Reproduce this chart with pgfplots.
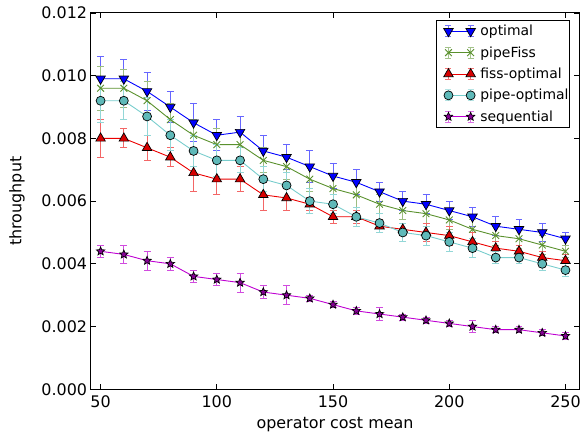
\documentclass[border=0pt]{standalone}
\usepackage{pgfplots}
\pgfplotsset{compat=1.18}
\usepackage{pgfplotstable}
\usepackage{fontspec}
\setmainfont{DejaVu Sans}
\usetikzlibrary{plotmarks}

\definecolor{cOpt}{RGB}{0,0,255}
\definecolor{cPF}{RGB}{90,145,45}
\definecolor{cFiss}{RGB}{235,0,0}
\definecolor{cFissM}{RGB}{215,0,0}
\definecolor{cPipe}{RGB}{120,205,205}
\definecolor{cPipeM}{RGB}{95,185,185}
\definecolor{cSeq}{RGB}{190,0,210}
\definecolor{cSeqM}{RGB}{135,0,150}

% filled five-pointed star
\pgfdeclareplotmark{fstar}{%
  \pgfpathmoveto{\pgfqpointpolar{90}{\pgfplotmarksize}}%
  \pgfpathlineto{\pgfqpointpolar{126}{0.45\pgfplotmarksize}}%
  \pgfpathlineto{\pgfqpointpolar{162}{\pgfplotmarksize}}%
  \pgfpathlineto{\pgfqpointpolar{198}{0.45\pgfplotmarksize}}%
  \pgfpathlineto{\pgfqpointpolar{234}{\pgfplotmarksize}}%
  \pgfpathlineto{\pgfqpointpolar{270}{0.45\pgfplotmarksize}}%
  \pgfpathlineto{\pgfqpointpolar{306}{\pgfplotmarksize}}%
  \pgfpathlineto{\pgfqpointpolar{342}{0.45\pgfplotmarksize}}%
  \pgfpathlineto{\pgfqpointpolar{18}{\pgfplotmarksize}}%
  \pgfpathlineto{\pgfqpointpolar{54}{0.45\pgfplotmarksize}}%
  \pgfpathclose
  \pgfusepathqfillstroke
}

\pgfplotstableread{
x   y      e
50  0.0099 0.0007
60  0.0099 0.0006
70  0.0095 0.0006
80  0.0090 0.0005
90  0.0085 0.0006
100 0.0081 0.0005
110 0.0082 0.0005
120 0.0076 0.0005
130 0.0074 0.0004
140 0.0071 0.0005
150 0.0068 0.0004
160 0.0066 0.0004
170 0.0063 0.0003
180 0.0060 0.0003
190 0.0059 0.0003
200 0.0057 0.0003
210 0.0055 0.0003
220 0.0052 0.0003
230 0.0051 0.0003
240 0.0050 0.0003
250 0.0048 0.0002
}\optimal

\pgfplotstableread{
x   y      e
50  0.0096 0.0007
60  0.0096 0.0006
70  0.0092 0.0006
80  0.0086 0.0005
90  0.0081 0.0005
100 0.0078 0.0005
110 0.0078 0.0004
120 0.0073 0.0004
130 0.0071 0.0004
140 0.0067 0.0004
150 0.0064 0.0004
160 0.0062 0.0004
170 0.0059 0.0003
180 0.0057 0.0003
190 0.0056 0.0003
200 0.0054 0.0003
210 0.0051 0.0003
220 0.0049 0.0003
230 0.0048 0.0003
240 0.0046 0.0003
250 0.0044 0.0002
}\pipefiss

\pgfplotstableread{
x   y      e
50  0.0080 0.0006
60  0.0080 0.0003
70  0.0077 0.0004
80  0.0074 0.0003
90  0.0069 0.0006
100 0.0067 0.0005
110 0.0067 0.0004
120 0.0062 0.0005
130 0.0061 0.0004
140 0.0059 0.0002
150 0.0055 0.0002
160 0.0055 0.0002
170 0.0052 0.0002
180 0.0051 0.0002
190 0.0050 0.0003
200 0.0049 0.0003
210 0.0047 0.0003
220 0.0045 0.0002
230 0.0044 0.0002
240 0.0042 0.0002
250 0.0041 0.0002
}\fissopt

\pgfplotstableread{
x   y      e
50  0.0092 0.0007
60  0.0092 0.0006
70  0.0087 0.0006
80  0.0081 0.0005
90  0.0076 0.0005
100 0.0073 0.0005
110 0.0073 0.0004
120 0.0067 0.0004
130 0.0065 0.0004
140 0.0060 0.0004
150 0.0059 0.0003
160 0.0055 0.0003
170 0.0053 0.0003
180 0.0050 0.0003
190 0.0049 0.0003
200 0.0047 0.0003
210 0.0045 0.0003
220 0.0042 0.0002
230 0.0042 0.0002
240 0.0040 0.0002
250 0.0038 0.0002
}\pipeopt

\pgfplotstableread{
x   y      e
50  0.0044 0.0002
60  0.0043 0.0003
70  0.0041 0.0003
80  0.0040 0.0002
90  0.0036 0.0002
100 0.0035 0.0002
110 0.0034 0.0003
120 0.0031 0.0002
130 0.0030 0.0003
140 0.0029 0.0001
150 0.0027 0.0001
160 0.0025 0.0001
170 0.0024 0.0002
180 0.0023 0.0001
190 0.0022 0.0001
200 0.0021 0.0001
210 0.0020 0.0002
220 0.0019 0.0001
230 0.0019 0.0001
240 0.0018 0.0001
250 0.0017 0.0001
}\sequential

\begin{document}
\begin{tikzpicture}
\begin{axis}[
  at={(0pt,0pt)}, anchor=south west,
  scale only axis, width=491pt, height=378pt,
  xmin=45.7, xmax=256, ymin=0, ymax=0.012,
  xtick={50,100,150,200,250},
  ytick={0,0.002,0.004,0.006,0.008,0.010,0.012},
  scaled y ticks=false,
  yticklabel style={/pgf/number format/.cd, fixed, fixed zerofill, precision=3},
  xticklabel style={yshift=-3pt},
  /pgf/number format/assume math mode=true,
  tick label style={font=\fontsize{16}{19}\selectfont},
  label style={font=\fontsize{16}{19}\selectfont},
  tick align=inside,
  major tick length=5pt,
  tick style={black, line width=0.8pt},
  axis line style={line width=1pt},
  xlabel={operator cost mean},
  ylabel={throughput},
  xlabel style={at={(axis description cs:0.5,-0.0926)}, anchor=center},
  ylabel style={at={(axis description cs:-0.1507,0.5)}, rotate=0, anchor=center},
  legend style={at={(0.9805,0.9815)}, anchor=north east, draw=black, line width=0.8pt,
    font=\fontsize{14}{17}\selectfont, nodes={inner sep=0pt},
    row sep=9.3pt, column sep=1.3pt, inner xsep=1pt, inner ysep=5pt},
  legend cell align=left,
  legend image code/.code={%
    \draw[mark=none, opacity=0.55, line width=1pt]
      (0pt,-5.5pt)--(0pt,5.5pt) (-3pt,5.5pt)--(3pt,5.5pt) (-3pt,-5.5pt)--(3pt,-5.5pt)
      (22.3pt,-5.5pt)--(22.3pt,5.5pt) (19.3pt,5.5pt)--(25.3pt,5.5pt) (19.3pt,-5.5pt)--(25.3pt,-5.5pt);
    \draw[#1] plot coordinates {(0pt,0pt) (22.3pt,0pt)};
    \path (-11pt,0pt) (30.3pt,0pt);},
]
\addplot[color=cOpt, line width=0.9pt, mark=triangle*, mark size=5.5pt,
  mark options={rotate=180, fill=cOpt, draw=black, line width=0.7pt},
  error bars/.cd, y dir=both, y explicit,
  error bar style={color=cOpt!60, line width=1pt},
  error mark options={rotate=90, mark size=3.5pt, color=cOpt!60, line width=1pt}]
  table[x=x, y=y, y error=e] {\optimal};
\addlegendentry{optimal}

\addplot[color=cPF, line width=0.9pt, mark=x, mark size=4.8pt,
  mark options={draw=cPF, line width=0.9pt},
  error bars/.cd, y dir=both, y explicit,
  error bar style={color=cPF!60, line width=1pt},
  error mark options={rotate=90, mark size=3.5pt, color=cPF!60, line width=1pt}]
  table[x=x, y=y, y error=e] {\pipefiss};
\addlegendentry{pipeFiss}

\addplot[color=cFiss, line width=0.9pt, mark=triangle*, mark size=5.5pt,
  mark options={fill=cFissM, draw=black, line width=0.7pt},
  error bars/.cd, y dir=both, y explicit,
  error bar style={color=cFiss!60, line width=1pt},
  error mark options={rotate=90, mark size=3.5pt, color=cFiss!60, line width=1pt}]
  table[x=x, y=y, y error=e] {\fissopt};
\addlegendentry{fiss-optimal}

\addplot[color=cPipe, line width=0.9pt, mark=*, mark size=4.5pt,
  mark options={fill=cPipeM, draw=black, line width=0.7pt},
  error bars/.cd, y dir=both, y explicit,
  error bar style={color=cPipe!80, line width=1pt},
  error mark options={rotate=90, mark size=3.5pt, color=cPipe!80, line width=1pt}]
  table[x=x, y=y, y error=e] {\pipeopt};
\addlegendentry{pipe-optimal}

\addplot[color=cSeq, line width=0.9pt, mark=fstar, mark size=4.4pt,
  mark options={fill=cSeqM, draw=black, line width=0.7pt},
  error bars/.cd, y dir=both, y explicit,
  error bar style={color=cSeq!70, line width=1pt},
  error mark options={rotate=90, mark size=3.5pt, color=cSeq!70, line width=1pt}]
  table[x=x, y=y, y error=e] {\sequential};
\addlegendentry{sequential}
\end{axis}
\path[use as bounding box] (-91pt,-46pt) rectangle (493pt,391pt);
\end{tikzpicture}
\end{document}
